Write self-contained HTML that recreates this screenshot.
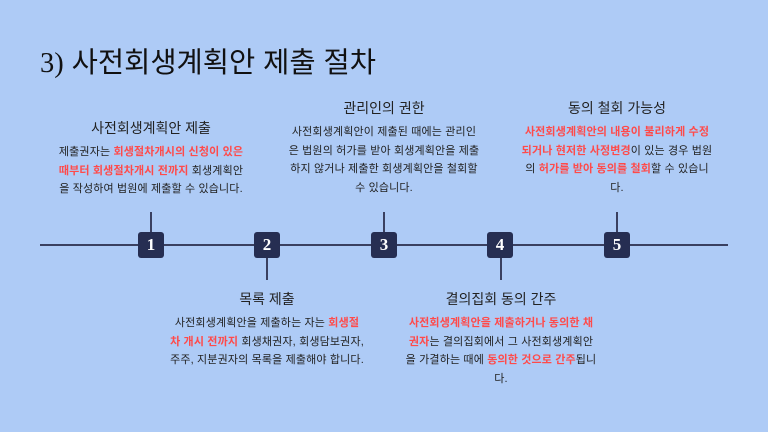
<!DOCTYPE html>
<html><head><meta charset="utf-8"><style>
*{margin:0;padding:0;box-sizing:border-box}
body{width:768px;height:432px;background:#aecbf6;position:relative;overflow:hidden;font-family:"Liberation Sans","Noto Sans CJK KR",sans-serif;color:#222}
.title{position:absolute;left:40px;top:40px;font-size:28.5px;color:#111;white-space:nowrap}
.title .n{font-family:"Liberation Serif","Noto Sans CJK KR",serif}
.line{position:absolute;left:40px;width:688px;top:244px;height:2px;background:#3a4060}
.v{position:absolute;width:1.5px;background:#3a4060}
.box{position:absolute;top:232px;width:26px;height:26px;background:#262e52;border-radius:3px;color:#fff;font-family:"Liberation Serif",serif;font-weight:bold;font-size:17px;text-align:center;line-height:26px}
.blk{position:absolute;width:192px;text-align:center}
.blk h3{font-weight:normal;font-size:14px;color:#222;margin-bottom:5px;line-height:20px}
.blk p{font-size:11px;letter-spacing:0.15px;line-height:18.5px;color:#222}
.r{color:#ff4a4a;font-weight:bold}
</style></head><body>
<div class="title"><span class="n">3)</span> 사전회생계획안 제출 절차</div>
<div class="line"></div>
<div class="v" style="left:150px;top:212px;height:20px"></div>
<div class="v" style="left:383px;top:212px;height:20px"></div>
<div class="v" style="left:616px;top:212px;height:20px"></div>
<div class="v" style="left:266px;top:258px;height:22px"></div>
<div class="v" style="left:500px;top:258px;height:22px"></div>
<div class="box" style="left:138px">1</div>
<div class="box" style="left:254px">2</div>
<div class="box" style="left:371px">3</div>
<div class="box" style="left:487px">4</div>
<div class="box" style="left:604px">5</div>

<div class="blk" style="left:55px;top:118px"><h3>사전회생계획안 제출</h3>
<p>제출권자는 <span class="r">회생절차개시의 신청이 있은 때부터 회생절차개시 전까지</span> 회생계획안을 작성하여 법원에 제출할 수 있습니다.</p></div>

<div class="blk" style="left:288px;top:98px"><h3>관리인의 권한</h3>
<p>사전회생계획안이 제출된 때에는 관리인은 법원의 허가를 받아 회생계획안을 제출하지 않거나 제출한 회생계획안을 철회할 수 있습니다.</p></div>

<div class="blk" style="left:521px;top:98px"><h3>동의 철회 가능성</h3>
<p><span class="r">사전회생계획안의 내용이 불리하게 수정되거나 현저한 사정변경</span>이 있는 경우 법원의 <span class="r">허가를 받아 동의를 철회</span>할 수 있습니다.</p></div>

<div class="blk" style="left:147px;top:289px;width:240px"><h3>목록 제출</h3>
<p style="white-space:nowrap">사전회생계획안을 제출하는 자는 <span class="r">회생절</span><br><span class="r">차 개시 전까지</span> 회생채권자, 회생담보권자,<br>주주, 지분권자의 목록을 제출해야 합니다.</p></div>

<div class="blk" style="left:405px;top:289px"><h3>결의집회 동의 간주</h3>
<p><span class="r">사전회생계획안을 제출하거나 동의한 채권자</span>는 결의집회에서 그 사전회생계획안을 가결하는 때에 <span class="r">동의한 것으로 간주</span>됩니다.</p></div>
</body></html>
